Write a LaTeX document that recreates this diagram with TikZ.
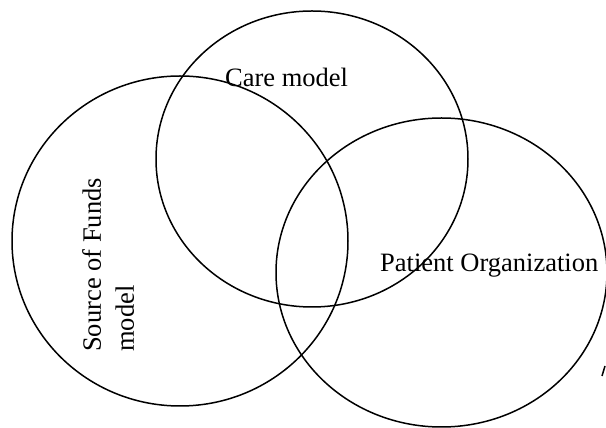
\documentclass[tikz,border=0pt]{standalone}
\usepackage{fontspec}
\setmainfont{Liberation Serif}
\usetikzlibrary{shapes.geometric}
\begin{document}
\begin{tikzpicture}[x=1pt,y=1pt,
  venn/.style={ellipse, draw=black, line width=1.5pt, inner sep=0pt},
  lbl/.style={inner sep=0pt, font=\fontsize{26.5}{33}\selectfont}]
\useasboundingbox (0,0) rectangle (606,428);
\node[venn, minimum width=336pt, minimum height=330pt] (funds) at (180,187) {};
\node[venn, minimum width=312pt, minimum height=296pt] (care) at (312,269) {};
\node[venn, minimum width=331pt, minimum height=309pt] (patient) at (441.5,155.5) {};
\node[lbl, anchor=base west] (caretxt) at (225,341) {Care model};
\node[lbl, anchor=base west] (pattxt) at (380,156) {Patient Organization};
\node[lbl, anchor=north west, rotate=90, align=left] (fundstxt) at (82,76) {Source of Funds\\model};
\coordinate (m1) at (602,52);
\coordinate (m2) at (605,62);
\draw[line width=1.5pt] (m1) -- (m2);
\end{tikzpicture}
\end{document}
